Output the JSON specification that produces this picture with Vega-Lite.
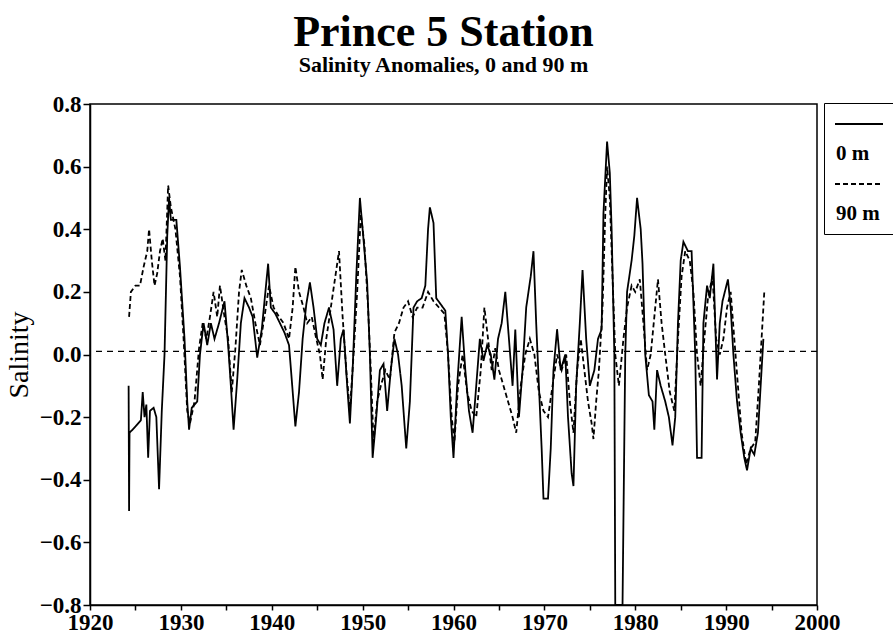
{
  "$schema": "https://vega.github.io/schema/vega-lite/v6.json",
  "width": 727,
  "height": 501,
  "autosize": {"type": "none"},
  "padding": {"left": 90, "top": 104, "right": 76, "bottom": 32},
  "background": "white",
  "title": {
    "text": "Prince 5 Station",
    "subtitle": "Salinity Anomalies, 0 and 90 m",
    "anchor": "middle",
    "dx": -10,
    "offset": 17,
    "font": "Liberation Serif",
    "fontSize": 44,
    "fontWeight": "bold",
    "color": "black",
    "subtitleFont": "Liberation Serif",
    "subtitleFontSize": 22,
    "subtitleFontWeight": "bold",
    "subtitleColor": "black",
    "subtitlePadding": 0
  },
  "config": {"view": {"stroke": "black", "strokeWidth": 1.5}, "font": "Liberation Serif"},
  "datasets": {
    "series": [
      {"year":1924.25,"sal":-0.10,"depth":"0 m"},{"year":1924.3,"sal":-0.50,"depth":"0 m"},{"year":1924.35,"sal":-0.25,"depth":"0 m"},{"year":1925.0,"sal":-0.23,"depth":"0 m"},{"year":1925.6,"sal":-0.21,"depth":"0 m"},{"year":1925.8,"sal":-0.12,"depth":"0 m"},{"year":1926.0,"sal":-0.20,"depth":"0 m"},{"year":1926.2,"sal":-0.16,"depth":"0 m"},{"year":1926.4,"sal":-0.33,"depth":"0 m"},{"year":1926.6,"sal":-0.18,"depth":"0 m"},{"year":1927.0,"sal":-0.17,"depth":"0 m"},{"year":1927.3,"sal":-0.20,"depth":"0 m"},{"year":1927.6,"sal":-0.43,"depth":"0 m"},{"year":1927.9,"sal":-0.18,"depth":"0 m"},{"year":1928.2,"sal":0.0,"depth":"0 m"},{"year":1928.5,"sal":0.38,"depth":"0 m"},{"year":1928.7,"sal":0.50,"depth":"0 m"},{"year":1928.9,"sal":0.43,"depth":"0 m"},{"year":1929.5,"sal":0.43,"depth":"0 m"},{"year":1929.9,"sal":0.28,"depth":"0 m"},{"year":1930.4,"sal":0.05,"depth":"0 m"},{"year":1930.7,"sal":-0.15,"depth":"0 m"},{"year":1930.9,"sal":-0.24,"depth":"0 m"},{"year":1931.2,"sal":-0.17,"depth":"0 m"},{"year":1931.8,"sal":-0.15,"depth":"0 m"},{"year":1932.1,"sal":0.0,"depth":"0 m"},{"year":1932.5,"sal":0.10,"depth":"0 m"},{"year":1932.9,"sal":0.03,"depth":"0 m"},{"year":1933.3,"sal":0.10,"depth":"0 m"},{"year":1933.7,"sal":0.05,"depth":"0 m"},{"year":1934.2,"sal":0.10,"depth":"0 m"},{"year":1934.8,"sal":0.17,"depth":"0 m"},{"year":1935.2,"sal":0.03,"depth":"0 m"},{"year":1935.5,"sal":-0.10,"depth":"0 m"},{"year":1935.8,"sal":-0.24,"depth":"0 m"},{"year":1936.2,"sal":-0.08,"depth":"0 m"},{"year":1936.6,"sal":0.10,"depth":"0 m"},{"year":1937.0,"sal":0.18,"depth":"0 m"},{"year":1937.5,"sal":0.15,"depth":"0 m"},{"year":1937.9,"sal":0.12,"depth":"0 m"},{"year":1938.4,"sal":-0.01,"depth":"0 m"},{"year":1938.9,"sal":0.08,"depth":"0 m"},{"year":1939.3,"sal":0.20,"depth":"0 m"},{"year":1939.6,"sal":0.29,"depth":"0 m"},{"year":1939.9,"sal":0.15,"depth":"0 m"},{"year":1940.4,"sal":0.13,"depth":"0 m"},{"year":1940.9,"sal":0.10,"depth":"0 m"},{"year":1941.4,"sal":0.07,"depth":"0 m"},{"year":1941.9,"sal":0.03,"depth":"0 m"},{"year":1942.2,"sal":-0.08,"depth":"0 m"},{"year":1942.6,"sal":-0.23,"depth":"0 m"},{"year":1943.0,"sal":-0.12,"depth":"0 m"},{"year":1943.4,"sal":0.05,"depth":"0 m"},{"year":1943.8,"sal":0.16,"depth":"0 m"},{"year":1944.2,"sal":0.23,"depth":"0 m"},{"year":1944.6,"sal":0.15,"depth":"0 m"},{"year":1945.0,"sal":0.05,"depth":"0 m"},{"year":1945.4,"sal":0.03,"depth":"0 m"},{"year":1945.8,"sal":0.10,"depth":"0 m"},{"year":1946.3,"sal":0.15,"depth":"0 m"},{"year":1946.8,"sal":0.08,"depth":"0 m"},{"year":1947.2,"sal":-0.10,"depth":"0 m"},{"year":1947.6,"sal":0.05,"depth":"0 m"},{"year":1947.9,"sal":0.08,"depth":"0 m"},{"year":1948.3,"sal":-0.10,"depth":"0 m"},{"year":1948.6,"sal":-0.22,"depth":"0 m"},{"year":1948.9,"sal":-0.05,"depth":"0 m"},{"year":1949.3,"sal":0.25,"depth":"0 m"},{"year":1949.7,"sal":0.50,"depth":"0 m"},{"year":1950.0,"sal":0.40,"depth":"0 m"},{"year":1950.5,"sal":0.23,"depth":"0 m"},{"year":1950.8,"sal":0.0,"depth":"0 m"},{"year":1951.1,"sal":-0.33,"depth":"0 m"},{"year":1951.5,"sal":-0.20,"depth":"0 m"},{"year":1951.9,"sal":-0.05,"depth":"0 m"},{"year":1952.3,"sal":-0.03,"depth":"0 m"},{"year":1952.7,"sal":-0.18,"depth":"0 m"},{"year":1953.1,"sal":-0.05,"depth":"0 m"},{"year":1953.5,"sal":0.05,"depth":"0 m"},{"year":1953.9,"sal":0.0,"depth":"0 m"},{"year":1954.3,"sal":-0.10,"depth":"0 m"},{"year":1954.8,"sal":-0.30,"depth":"0 m"},{"year":1955.2,"sal":-0.15,"depth":"0 m"},{"year":1955.6,"sal":0.15,"depth":"0 m"},{"year":1956.0,"sal":0.17,"depth":"0 m"},{"year":1956.5,"sal":0.18,"depth":"0 m"},{"year":1956.9,"sal":0.22,"depth":"0 m"},{"year":1957.2,"sal":0.40,"depth":"0 m"},{"year":1957.4,"sal":0.47,"depth":"0 m"},{"year":1957.8,"sal":0.42,"depth":"0 m"},{"year":1958.1,"sal":0.18,"depth":"0 m"},{"year":1958.6,"sal":0.16,"depth":"0 m"},{"year":1959.1,"sal":0.14,"depth":"0 m"},{"year":1959.4,"sal":0.0,"depth":"0 m"},{"year":1959.7,"sal":-0.20,"depth":"0 m"},{"year":1960.0,"sal":-0.33,"depth":"0 m"},{"year":1960.4,"sal":-0.10,"depth":"0 m"},{"year":1960.9,"sal":0.12,"depth":"0 m"},{"year":1961.3,"sal":-0.05,"depth":"0 m"},{"year":1961.7,"sal":-0.18,"depth":"0 m"},{"year":1962.1,"sal":-0.25,"depth":"0 m"},{"year":1962.5,"sal":-0.10,"depth":"0 m"},{"year":1962.9,"sal":0.05,"depth":"0 m"},{"year":1963.3,"sal":-0.02,"depth":"0 m"},{"year":1963.7,"sal":0.03,"depth":"0 m"},{"year":1964.1,"sal":0.0,"depth":"0 m"},{"year":1964.5,"sal":-0.08,"depth":"0 m"},{"year":1964.9,"sal":0.05,"depth":"0 m"},{"year":1965.3,"sal":0.10,"depth":"0 m"},{"year":1965.7,"sal":0.20,"depth":"0 m"},{"year":1966.1,"sal":0.05,"depth":"0 m"},{"year":1966.5,"sal":-0.10,"depth":"0 m"},{"year":1966.8,"sal":0.08,"depth":"0 m"},{"year":1967.2,"sal":-0.20,"depth":"0 m"},{"year":1967.6,"sal":-0.05,"depth":"0 m"},{"year":1968.0,"sal":0.15,"depth":"0 m"},{"year":1968.5,"sal":0.25,"depth":"0 m"},{"year":1968.8,"sal":0.33,"depth":"0 m"},{"year":1969.1,"sal":0.10,"depth":"0 m"},{"year":1969.4,"sal":-0.10,"depth":"0 m"},{"year":1969.7,"sal":-0.30,"depth":"0 m"},{"year":1969.9,"sal":-0.46,"depth":"0 m"},{"year":1970.4,"sal":-0.46,"depth":"0 m"},{"year":1970.7,"sal":-0.30,"depth":"0 m"},{"year":1971.0,"sal":-0.05,"depth":"0 m"},{"year":1971.4,"sal":0.08,"depth":"0 m"},{"year":1971.8,"sal":-0.05,"depth":"0 m"},{"year":1972.3,"sal":0.0,"depth":"0 m"},{"year":1972.6,"sal":-0.20,"depth":"0 m"},{"year":1973.0,"sal":-0.38,"depth":"0 m"},{"year":1973.2,"sal":-0.42,"depth":"0 m"},{"year":1973.5,"sal":-0.10,"depth":"0 m"},{"year":1973.9,"sal":0.10,"depth":"0 m"},{"year":1974.2,"sal":0.27,"depth":"0 m"},{"year":1974.6,"sal":0.05,"depth":"0 m"},{"year":1975.0,"sal":-0.10,"depth":"0 m"},{"year":1975.5,"sal":-0.05,"depth":"0 m"},{"year":1975.9,"sal":0.05,"depth":"0 m"},{"year":1976.3,"sal":0.08,"depth":"0 m"},{"year":1976.5,"sal":0.45,"depth":"0 m"},{"year":1976.9,"sal":0.68,"depth":"0 m"},{"year":1977.2,"sal":0.58,"depth":"0 m"},{"year":1977.4,"sal":0.40,"depth":"0 m"},{"year":1977.7,"sal":0.0,"depth":"0 m"},{"year":1977.8,"sal":-0.80,"depth":"0 m"},{"year":1978.6,"sal":-0.80,"depth":"0 m"},{"year":1978.7,"sal":-0.53,"depth":"0 m"},{"year":1978.9,"sal":0.0,"depth":"0 m"},{"year":1979.1,"sal":0.20,"depth":"0 m"},{"year":1979.6,"sal":0.30,"depth":"0 m"},{"year":1979.9,"sal":0.38,"depth":"0 m"},{"year":1980.2,"sal":0.50,"depth":"0 m"},{"year":1980.6,"sal":0.40,"depth":"0 m"},{"year":1980.8,"sal":0.29,"depth":"0 m"},{"year":1981.1,"sal":0.0,"depth":"0 m"},{"year":1981.5,"sal":-0.13,"depth":"0 m"},{"year":1981.9,"sal":-0.15,"depth":"0 m"},{"year":1982.1,"sal":-0.24,"depth":"0 m"},{"year":1982.4,"sal":-0.05,"depth":"0 m"},{"year":1982.8,"sal":-0.10,"depth":"0 m"},{"year":1983.3,"sal":-0.15,"depth":"0 m"},{"year":1983.7,"sal":-0.20,"depth":"0 m"},{"year":1984.1,"sal":-0.29,"depth":"0 m"},{"year":1984.4,"sal":-0.20,"depth":"0 m"},{"year":1984.7,"sal":0.10,"depth":"0 m"},{"year":1985.0,"sal":0.30,"depth":"0 m"},{"year":1985.3,"sal":0.36,"depth":"0 m"},{"year":1985.8,"sal":0.33,"depth":"0 m"},{"year":1986.2,"sal":0.33,"depth":"0 m"},{"year":1986.6,"sal":0.0,"depth":"0 m"},{"year":1986.8,"sal":-0.33,"depth":"0 m"},{"year":1987.3,"sal":-0.33,"depth":"0 m"},{"year":1987.5,"sal":0.10,"depth":"0 m"},{"year":1987.9,"sal":0.22,"depth":"0 m"},{"year":1988.2,"sal":0.18,"depth":"0 m"},{"year":1988.6,"sal":0.29,"depth":"0 m"},{"year":1988.8,"sal":0.10,"depth":"0 m"},{"year":1989.0,"sal":-0.08,"depth":"0 m"},{"year":1989.3,"sal":0.10,"depth":"0 m"},{"year":1989.6,"sal":0.17,"depth":"0 m"},{"year":1990.2,"sal":0.24,"depth":"0 m"},{"year":1990.5,"sal":0.15,"depth":"0 m"},{"year":1990.8,"sal":0.0,"depth":"0 m"},{"year":1991.2,"sal":-0.15,"depth":"0 m"},{"year":1991.6,"sal":-0.25,"depth":"0 m"},{"year":1992.0,"sal":-0.33,"depth":"0 m"},{"year":1992.3,"sal":-0.37,"depth":"0 m"},{"year":1992.7,"sal":-0.30,"depth":"0 m"},{"year":1993.1,"sal":-0.32,"depth":"0 m"},{"year":1993.5,"sal":-0.25,"depth":"0 m"},{"year":1993.8,"sal":-0.10,"depth":"0 m"},{"year":1994.1,"sal":0.05,"depth":"0 m"},
      {"year":1924.3,"sal":0.12,"depth":"90 m"},{"year":1924.5,"sal":0.20,"depth":"90 m"},{"year":1925.0,"sal":0.22,"depth":"90 m"},{"year":1925.5,"sal":0.22,"depth":"90 m"},{"year":1925.9,"sal":0.28,"depth":"90 m"},{"year":1926.3,"sal":0.33,"depth":"90 m"},{"year":1926.5,"sal":0.40,"depth":"90 m"},{"year":1926.8,"sal":0.30,"depth":"90 m"},{"year":1927.1,"sal":0.22,"depth":"90 m"},{"year":1927.4,"sal":0.26,"depth":"90 m"},{"year":1927.7,"sal":0.33,"depth":"90 m"},{"year":1928.0,"sal":0.37,"depth":"90 m"},{"year":1928.3,"sal":0.30,"depth":"90 m"},{"year":1928.6,"sal":0.54,"depth":"90 m"},{"year":1928.9,"sal":0.47,"depth":"90 m"},{"year":1929.4,"sal":0.40,"depth":"90 m"},{"year":1929.9,"sal":0.25,"depth":"90 m"},{"year":1930.3,"sal":0.05,"depth":"90 m"},{"year":1930.7,"sal":-0.18,"depth":"90 m"},{"year":1931.0,"sal":-0.22,"depth":"90 m"},{"year":1931.5,"sal":-0.15,"depth":"90 m"},{"year":1932.0,"sal":0.02,"depth":"90 m"},{"year":1932.4,"sal":0.10,"depth":"90 m"},{"year":1932.8,"sal":0.05,"depth":"90 m"},{"year":1933.2,"sal":0.12,"depth":"90 m"},{"year":1933.6,"sal":0.20,"depth":"90 m"},{"year":1934.0,"sal":0.12,"depth":"90 m"},{"year":1934.3,"sal":0.22,"depth":"90 m"},{"year":1934.8,"sal":0.12,"depth":"90 m"},{"year":1935.2,"sal":0.05,"depth":"90 m"},{"year":1935.6,"sal":-0.12,"depth":"90 m"},{"year":1936.0,"sal":0.02,"depth":"90 m"},{"year":1936.4,"sal":0.20,"depth":"90 m"},{"year":1936.7,"sal":0.27,"depth":"90 m"},{"year":1937.2,"sal":0.22,"depth":"90 m"},{"year":1937.7,"sal":0.18,"depth":"90 m"},{"year":1938.2,"sal":0.10,"depth":"90 m"},{"year":1938.7,"sal":0.03,"depth":"90 m"},{"year":1939.2,"sal":0.12,"depth":"90 m"},{"year":1939.7,"sal":0.22,"depth":"90 m"},{"year":1940.2,"sal":0.15,"depth":"90 m"},{"year":1940.8,"sal":0.12,"depth":"90 m"},{"year":1941.3,"sal":0.10,"depth":"90 m"},{"year":1941.9,"sal":0.05,"depth":"90 m"},{"year":1942.3,"sal":0.15,"depth":"90 m"},{"year":1942.6,"sal":0.28,"depth":"90 m"},{"year":1943.0,"sal":0.20,"depth":"90 m"},{"year":1943.5,"sal":0.15,"depth":"90 m"},{"year":1943.9,"sal":0.10,"depth":"90 m"},{"year":1944.4,"sal":0.12,"depth":"90 m"},{"year":1944.9,"sal":0.05,"depth":"90 m"},{"year":1945.3,"sal":0.0,"depth":"90 m"},{"year":1945.6,"sal":-0.08,"depth":"90 m"},{"year":1946.0,"sal":0.05,"depth":"90 m"},{"year":1946.5,"sal":0.15,"depth":"90 m"},{"year":1947.0,"sal":0.25,"depth":"90 m"},{"year":1947.4,"sal":0.33,"depth":"90 m"},{"year":1947.8,"sal":0.12,"depth":"90 m"},{"year":1948.2,"sal":-0.05,"depth":"90 m"},{"year":1948.6,"sal":-0.18,"depth":"90 m"},{"year":1949.0,"sal":0.0,"depth":"90 m"},{"year":1949.4,"sal":0.20,"depth":"90 m"},{"year":1949.8,"sal":0.45,"depth":"90 m"},{"year":1950.2,"sal":0.35,"depth":"90 m"},{"year":1950.6,"sal":0.15,"depth":"90 m"},{"year":1950.9,"sal":-0.05,"depth":"90 m"},{"year":1951.2,"sal":-0.28,"depth":"90 m"},{"year":1951.6,"sal":-0.15,"depth":"90 m"},{"year":1952.0,"sal":-0.10,"depth":"90 m"},{"year":1952.5,"sal":-0.05,"depth":"90 m"},{"year":1953.0,"sal":-0.08,"depth":"90 m"},{"year":1953.5,"sal":0.07,"depth":"90 m"},{"year":1954.0,"sal":0.10,"depth":"90 m"},{"year":1954.5,"sal":0.15,"depth":"90 m"},{"year":1955.0,"sal":0.17,"depth":"90 m"},{"year":1955.5,"sal":0.12,"depth":"90 m"},{"year":1956.0,"sal":0.15,"depth":"90 m"},{"year":1956.6,"sal":0.15,"depth":"90 m"},{"year":1957.2,"sal":0.20,"depth":"90 m"},{"year":1957.8,"sal":0.17,"depth":"90 m"},{"year":1958.4,"sal":0.15,"depth":"90 m"},{"year":1959.0,"sal":0.13,"depth":"90 m"},{"year":1959.4,"sal":0.0,"depth":"90 m"},{"year":1959.8,"sal":-0.20,"depth":"90 m"},{"year":1960.1,"sal":-0.28,"depth":"90 m"},{"year":1960.5,"sal":-0.10,"depth":"90 m"},{"year":1961.0,"sal":0.0,"depth":"90 m"},{"year":1961.5,"sal":-0.12,"depth":"90 m"},{"year":1962.0,"sal":-0.18,"depth":"90 m"},{"year":1962.5,"sal":-0.20,"depth":"90 m"},{"year":1963.0,"sal":-0.05,"depth":"90 m"},{"year":1963.4,"sal":0.15,"depth":"90 m"},{"year":1963.8,"sal":0.05,"depth":"90 m"},{"year":1964.2,"sal":-0.05,"depth":"90 m"},{"year":1964.6,"sal":0.02,"depth":"90 m"},{"year":1965.0,"sal":-0.05,"depth":"90 m"},{"year":1965.5,"sal":-0.10,"depth":"90 m"},{"year":1966.0,"sal":-0.15,"depth":"90 m"},{"year":1966.5,"sal":-0.20,"depth":"90 m"},{"year":1966.9,"sal":-0.25,"depth":"90 m"},{"year":1967.4,"sal":-0.10,"depth":"90 m"},{"year":1967.9,"sal":0.0,"depth":"90 m"},{"year":1968.4,"sal":0.05,"depth":"90 m"},{"year":1968.9,"sal":0.0,"depth":"90 m"},{"year":1969.4,"sal":-0.12,"depth":"90 m"},{"year":1969.9,"sal":-0.18,"depth":"90 m"},{"year":1970.4,"sal":-0.20,"depth":"90 m"},{"year":1970.9,"sal":-0.10,"depth":"90 m"},{"year":1971.4,"sal":0.0,"depth":"90 m"},{"year":1971.9,"sal":-0.05,"depth":"90 m"},{"year":1972.4,"sal":0.0,"depth":"90 m"},{"year":1972.8,"sal":-0.15,"depth":"90 m"},{"year":1973.2,"sal":-0.25,"depth":"90 m"},{"year":1973.6,"sal":-0.05,"depth":"90 m"},{"year":1974.0,"sal":0.05,"depth":"90 m"},{"year":1974.4,"sal":-0.05,"depth":"90 m"},{"year":1974.8,"sal":-0.15,"depth":"90 m"},{"year":1975.2,"sal":-0.22,"depth":"90 m"},{"year":1975.4,"sal":-0.27,"depth":"90 m"},{"year":1975.7,"sal":-0.15,"depth":"90 m"},{"year":1976.0,"sal":-0.05,"depth":"90 m"},{"year":1976.4,"sal":0.15,"depth":"90 m"},{"year":1976.7,"sal":0.45,"depth":"90 m"},{"year":1976.9,"sal":0.60,"depth":"90 m"},{"year":1977.2,"sal":0.50,"depth":"90 m"},{"year":1977.5,"sal":0.25,"depth":"90 m"},{"year":1977.8,"sal":0.0,"depth":"90 m"},{"year":1978.2,"sal":-0.10,"depth":"90 m"},{"year":1978.7,"sal":0.05,"depth":"90 m"},{"year":1979.1,"sal":0.15,"depth":"90 m"},{"year":1979.6,"sal":0.22,"depth":"90 m"},{"year":1980.0,"sal":0.20,"depth":"90 m"},{"year":1980.5,"sal":0.24,"depth":"90 m"},{"year":1980.9,"sal":0.10,"depth":"90 m"},{"year":1981.3,"sal":-0.05,"depth":"90 m"},{"year":1981.7,"sal":0.0,"depth":"90 m"},{"year":1982.1,"sal":0.12,"depth":"90 m"},{"year":1982.5,"sal":0.24,"depth":"90 m"},{"year":1982.9,"sal":0.10,"depth":"90 m"},{"year":1983.3,"sal":0.0,"depth":"90 m"},{"year":1983.8,"sal":-0.12,"depth":"90 m"},{"year":1984.3,"sal":-0.18,"depth":"90 m"},{"year":1984.7,"sal":0.05,"depth":"90 m"},{"year":1985.1,"sal":0.25,"depth":"90 m"},{"year":1985.5,"sal":0.33,"depth":"90 m"},{"year":1986.0,"sal":0.30,"depth":"90 m"},{"year":1986.4,"sal":0.20,"depth":"90 m"},{"year":1986.8,"sal":0.0,"depth":"90 m"},{"year":1987.2,"sal":-0.10,"depth":"90 m"},{"year":1987.6,"sal":0.05,"depth":"90 m"},{"year":1988.0,"sal":0.18,"depth":"90 m"},{"year":1988.5,"sal":0.25,"depth":"90 m"},{"year":1988.9,"sal":0.05,"depth":"90 m"},{"year":1989.3,"sal":0.0,"depth":"90 m"},{"year":1989.7,"sal":0.05,"depth":"90 m"},{"year":1990.1,"sal":0.15,"depth":"90 m"},{"year":1990.5,"sal":0.20,"depth":"90 m"},{"year":1990.9,"sal":0.05,"depth":"90 m"},{"year":1991.3,"sal":-0.10,"depth":"90 m"},{"year":1991.7,"sal":-0.25,"depth":"90 m"},{"year":1992.2,"sal":-0.35,"depth":"90 m"},{"year":1992.7,"sal":-0.30,"depth":"90 m"},{"year":1993.2,"sal":-0.28,"depth":"90 m"},{"year":1993.6,"sal":-0.10,"depth":"90 m"},{"year":1993.9,"sal":0.05,"depth":"90 m"},{"year":1994.2,"sal":0.20,"depth":"90 m"}
    ]
  },
  "layer": [
    {
      "data": {"name": "series"},
      "mark": {"type": "line", "color": "black", "strokeWidth": 1.8, "clip": true},
      "encoding": {
        "x": {
          "field": "year", "type": "quantitative",
          "scale": {"domain": [1920, 2000], "nice": false, "zero": false},
          "axis": {
            "title": null,
            "values": [1920,1925,1930,1935,1940,1945,1950,1955,1960,1965,1970,1975,1980,1985,1990,1995,2000],
            "format": "d",
            "labelExpr": "datum.value % 10 == 0 ? datum.label : ''",
            "labelFont": "Liberation Serif", "labelFontSize": 23, "labelFontWeight": "bold", "labelColor": "black",
            "labelFlush": false, "labelOverlap": false, "labelPadding": 1,
            "tickSize": 5, "tickColor": "black", "tickWidth": 1.5,
            "domainColor": "black", "domainWidth": 1.5, "grid": false
          }
        },
        "y": {
          "field": "sal", "type": "quantitative",
          "scale": {"domain": [-0.8, 0.8], "nice": false, "zero": false},
          "axis": {
            "title": "Salinity",
            "titleFont": "Liberation Serif", "titleFontSize": 28, "titleFontWeight": "normal", "titleColor": "black", "titlePadding": 6,
            "values": [-0.8,-0.7,-0.6,-0.5,-0.4,-0.3,-0.2,-0.1,0,0.1,0.2,0.3,0.4,0.5,0.6,0.7,0.8],
            "labelExpr": "abs(round(datum.value*10)) % 2 == 0 ? format(datum.value, '.1f') : ''",
            "labelFont": "Liberation Serif", "labelFontSize": 23, "labelFontWeight": "bold", "labelColor": "black",
            "labelFlush": false, "labelOverlap": false, "labelPadding": 2,
            "tickSize": {"condition": {"test": "abs(round(datum.value*10)) % 2 == 0", "value": 7}, "value": 4},
            "tickColor": "black", "tickWidth": 1.5,
            "domainColor": "black", "domainWidth": 1.5, "grid": false
          }
        },
        "strokeDash": {
          "field": "depth", "type": "nominal",
          "scale": {"domain": ["0 m", "90 m"], "range": [[1, 0], [5, 3]]},
          "legend": {
            "orient": "none", "legendX": 734, "legendY": -1,
            "title": null, "padding": 10,
            "strokeColor": "black", "fillColor": "white",
            "symbolType": "M-2.4,0H2.4", "symbolSize": 400, "symbolStrokeWidth": 1.8, "symbolStrokeColor": "black",
            "symbolOffset": 14,
            "labelFont": "Liberation Serif", "labelFontSize": 21, "labelFontWeight": "bold", "labelColor": "black",
            "labelOffset": -34, "labelBaseline": "middle",
            "rowPadding": 9, "labelLimit": 200,
            "encode": {"labels": {"update": {"dy": {"value": 30}}}}
          }
        }
      }
    },
    {
      "data": {"values": [{"level": 0.01}]},
      "mark": {"type": "rule", "color": "black", "strokeDash": [6, 5], "strokeWidth": 1.3},
      "encoding": {"y": {"field": "level", "type": "quantitative"}}
    }
  ]
}
